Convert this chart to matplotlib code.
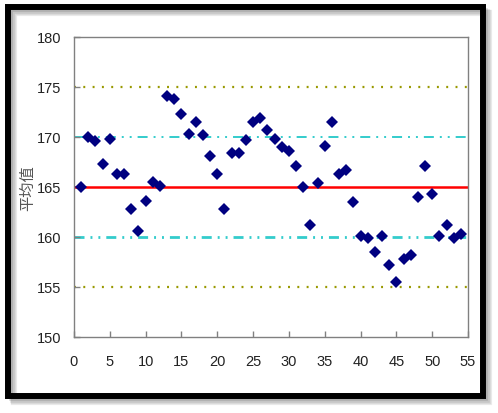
import matplotlib
matplotlib.use('Agg')
import matplotlib.pyplot as plt
from matplotlib.patches import Rectangle

plt.rcParams['font.family'] = ['Liberation Sans', 'Noto Sans CJK SC', 'DejaVu Sans']
plt.rcParams['lines.scale_dashes'] = False

# sample number and sample mean
sample_no = list(range(1, 55))
sample_mean = [
    165.0, 170.0, 169.6, 167.3, 169.8, 166.3, 166.3, 162.8, 160.6, 163.6,
    165.5, 165.1, 174.1, 173.8, 172.3, 170.3, 171.5, 170.2, 168.1, 166.3,
    162.8, 168.4, 168.4, 169.7, 171.5, 171.9, 170.7, 169.8, 169.0, 168.6,
    167.1, 165.0, 161.2, 165.4, 169.1, 171.5, 166.3, 166.7, 163.5, 160.1,
    159.9, 158.5, 160.1, 157.2, 155.5, 157.8, 158.2, 164.0, 167.1, 164.3,
    160.1, 161.2, 159.9, 160.3,
]

center_line = 165
inner_limits = [160, 170]
outer_limits = [155, 175]
x_ticks = list(range(0, 56, 5))
y_ticks = list(range(150, 181, 5))

fig = plt.figure(figsize=(4.98, 4.14), dpi=100)
W, H = 498, 414

# outer frame with soft shadow (figure pixel coords)
def px_rect(x0, y0, x1, y1, **kw):
    return Rectangle((x0 / W, 1 - y1 / H), (x1 - x0) / W, (y1 - y0) / H,
                     transform=fig.transFigure, **kw)

for i, a in enumerate([0.10, 0.12, 0.15, 0.2]):
    off = 4 - i
    fig.patches.append(px_rect(8 + off + 2, 8 + off + 2, 483 + off + 2, 397 + off + 2,
                               facecolor='none', edgecolor='#555555',
                               linewidth=4.5 - i * 0.6, alpha=a))
fig.patches.append(px_rect(8, 8, 483, 397, facecolor='none',
                           edgecolor='black', linewidth=4.3))

ax = fig.add_axes([74 / W, 1 - 338 / H, (468 - 74) / W, (338 - 38) / H])

ax.axhline(outer_limits[1], color='#999900', lw=1.6, dashes=(1.4, 5.3), zorder=1)
ax.axhline(outer_limits[0], color='#999900', lw=1.6, dashes=(1.4, 5.3), zorder=1)
ax.axhline(inner_limits[1], color='#33CCCC', lw=1.4,
           dashes=(7.2, 4.3, 1.4, 4.3, 1.4, 4.3), zorder=1)
ax.axhline(inner_limits[0], color='#33CCCC', lw=2.0,
           dashes=(7.2, 4.3, 1.4, 4.3, 1.4, 4.3), zorder=1)
ax.axhline(center_line, color='#FF0000', lw=1.8, zorder=2)

ax.plot(sample_no, sample_mean, linestyle='none', marker='D', markersize=6.5,
        color='#000080', markeredgewidth=0, zorder=3)

ax.set_xlim(0, 55)
ax.set_ylim(150, 180)
ax.set_xticks(x_ticks)
ax.set_yticks(y_ticks)
ax.tick_params(axis='x', direction='in', length=4, width=1, color='#808080',
               labelsize=10.5, pad=12, labelcolor='#222222')
ax.tick_params(axis='y', direction='in', length=4, width=1, color='#808080',
               labelsize=10.5, pad=9, labelcolor='#222222')
for s in ax.spines.values():
    s.set_color('#808080')
    s.set_linewidth(1.0)

ax.set_ylabel('平均值', family=['Noto Sans CJK SC', 'DejaVu Sans'],
              fontsize=11, color='#555555', va='center')
ax.yaxis.set_label_coords(-(74 - 28) / 394, 0.5)

fig.savefig('out.png', dpi=100)
